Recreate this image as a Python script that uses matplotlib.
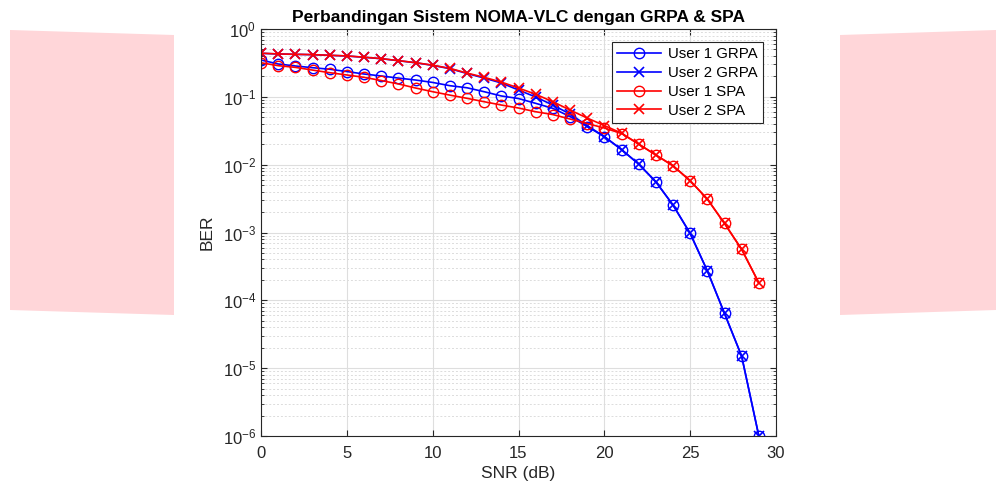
import matplotlib
matplotlib.use("Agg")
import matplotlib.pyplot as plt
from matplotlib.patches import Polygon
import numpy as np

plt.rcParams['font.family'] = ['Liberation Sans', 'DejaVu Sans']
plt.rcParams['mathtext.default'] = 'regular'

snr = np.arange(0, 30)

user1_grpa = [0.349, 0.305, 0.285, 0.269, 0.255, 0.236, 0.217, 0.203, 0.189, 0.177,
              0.163, 0.146, 0.136, 0.119, 0.103, 0.0944, 0.0802, 0.0676, 0.0512, 0.0365,
              0.0258, 0.0167, 0.0102, 0.0056, 0.00254, 0.00097, 0.000272, 6.41e-5, 1.50e-5, 1.0e-6]
user2_grpa = [0.438, 0.428, 0.423, 0.418, 0.409, 0.400, 0.383, 0.365, 0.341, 0.318,
              0.291, 0.260, 0.221, 0.189, 0.160, 0.126, 0.0994, 0.0757, 0.0558, 0.0377,
              0.0260, 0.0167, 0.0102, 0.0056, 0.00254, 0.00097, 0.000272, 6.41e-5, 1.50e-5, 1.0e-6]
user1_spa = [0.318, 0.288, 0.272, 0.248, 0.227, 0.210, 0.194, 0.174, 0.155, 0.135,
             0.119, 0.106, 0.0951, 0.0847, 0.0757, 0.0684, 0.0603, 0.0548, 0.0471, 0.0404,
             0.0347, 0.0288, 0.0201, 0.0139, 0.00963, 0.0058, 0.00311, 0.00136, 0.000564, 0.000181]
user2_spa = [0.440, 0.429, 0.424, 0.419, 0.410, 0.401, 0.384, 0.366, 0.342, 0.319,
             0.293, 0.263, 0.224, 0.194, 0.165, 0.135, 0.109, 0.0847, 0.0639, 0.0487,
             0.0377, 0.0292, 0.0201, 0.0139, 0.00963, 0.0058, 0.00311, 0.00136, 0.000564, 0.000181]

fig = plt.figure(figsize=(9.96, 4.88), dpi=100)

# pink panels on both sides (pixel coordinates of the figure)
W, H = 996.0, 488.0
def pix(pts):
    return [(x / W, 1 - y / H) for x, y in pts]
fig.patches.append(Polygon(pix([(10, 30), (174, 35), (174, 315), (10, 310)]),
                           closed=True, transform=fig.transFigure, fc='#FFD6D9', ec='none'))
fig.patches.append(Polygon(pix([(840, 35), (996, 30), (996, 310), (840, 315)]),
                           closed=True, transform=fig.transFigure, fc='#FFD6D9', ec='none'))

ax = fig.add_axes([261 / W, 1 - 436 / H, (776 - 261) / W, (436 - 29) / H])

ax.semilogy(snr, user1_grpa, 'b-o', mfc='none', ms=7.5, lw=1.2, label='User 1 GRPA')
ax.semilogy(snr, user2_grpa, 'b-x', ms=7, lw=1.2, mew=1.2, label='User 2 GRPA')
ax.semilogy(snr, user1_spa, 'r-o', mfc='none', ms=7.5, lw=1.2, label='User 1 SPA')
ax.semilogy(snr, user2_spa, 'r-x', ms=7, lw=1.2, mew=1.2, label='User 2 SPA')

ax.set_xlim(0, 30)
ax.set_ylim(1e-6, 1)
ax.set_xticks([0, 5, 10, 15, 20, 25, 30])
ax.set_yticks([10.0 ** k for k in range(-6, 1)])

ax.grid(True, which='major', color='#dedede', lw=0.8, ls='-')
ax.grid(True, which='minor', color='#dcdcdc', lw=0.7, ls=(0, (2, 2)))
ax.tick_params(which='both', direction='in', top=True, right=True, colors='#262626', labelsize=12)
ax.tick_params(axis='x', pad=7)
ax.tick_params(which='major', length=4)
ax.tick_params(which='minor', length=2)
for s in ax.spines.values():
    s.set_color('#262626')
    s.set_linewidth(0.8)

ax.set_xlabel('SNR (dB)', fontsize=12.5, color='#262626', labelpad=4)
ax.set_ylabel('BER', fontsize=12.5, color='#262626', labelpad=6)
ax.set_title('Perbandingan Sistem NOMA-VLC dengan GRPA & SPA', fontsize=12.5, fontweight='bold', pad=5)

leg = ax.legend(loc='upper right', bbox_to_anchor=((763 - 261) / 515, 1 - (42 - 29) / 407),
                fontsize=10.8, fancybox=False, framealpha=1, edgecolor='#262626',
                handlelength=2.9, borderpad=0.35, labelspacing=0.32, handletextpad=0.5,
                borderaxespad=0)
leg.get_frame().set_linewidth(0.8)

fig.savefig('out.png', dpi=100)
